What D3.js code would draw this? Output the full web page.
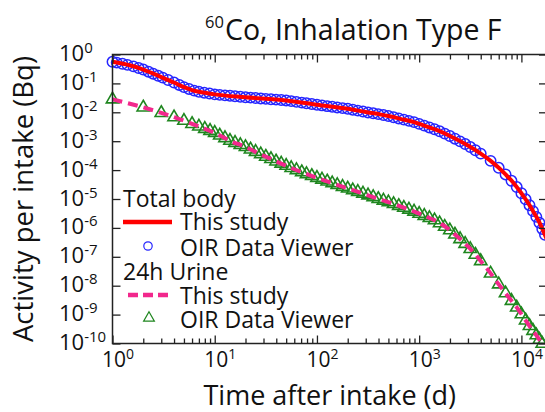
<!DOCTYPE html>
<html><head><meta charset="utf-8">
<script src="https://cdn.jsdelivr.net/npm/d3@7"></script>
<style>body{margin:0;background:#fff}svg{display:block;font-family:"Open Sans",sans-serif}</style>
</head><body><svg id="c" width="545" height="412"></svg>
<script>
// ---- data ----
const bodyLineT = [1,1.5,2,3,4,5,6,7,8.5,10,20,50,100,200,300,424,500,700,890,1000,1500,2000,3000,4000,5000,6000,7000,8500,10000,11700,13000,14700,16800,18000];
const bodyLineV = [0.562,0.417,0.302,0.166,0.107,0.0741,0.0589,0.0513,0.0457,0.0417,0.0331,0.0257,0.0182,0.0132,0.0102,0.00832,0.00741,0.00562,0.00457,0.00398,0.0024,0.00151,7.08e-4,3.72e-4,2.09e-4,1.2e-4,7.08e-5,3.39e-5,1.58e-5,7.08e-6,3.8e-6,1.78e-6,6.3e-7,3.55e-7];

const bodyOirT = [1,1.1,1.25,1.4,1.6,1.8,2,2.25,2.5,2.8,3.1,3.5,4,4.5,5,5.6,6.3,7,7.9,8.9,10,11.2,12.6,14.1,15.8,17.8,20,22.4,25.1,28.2,31.6,35.5,39.8,44.7,50,56,63,71,79,89,100,112,126,141,158,178,200,224,251,282,316,355,398,447,500,562,631,708,794,891,1000,1122,1259,1413,1585,1778,1995,2239,2512,2818,3162,3548,4000,5000,6000,7000,8000,9000,10000,11000,12000,13000,14000,15000,16000,17000];
const bodyOirV = [0.56,0.524,0.476,0.438,0.388,0.340,0.302,0.254,0.217,0.184,0.158,0.131,0.107,0.0883,0.0741,0.0643,0.0564,0.0513,0.0477,0.0446,0.0417,0.0402,0.0386,0.0372,0.0358,0.0344,0.0331,0.0321,0.0311,0.0301,0.0292,0.0283,0.0274,0.0265,0.0257,0.0243,0.0229,0.0216,0.0205,0.0193,0.0182,0.0173,0.0163,0.0155,0.0147,0.0139,0.0132,0.0123,0.0114,0.0106,0.0099,0.00925,0.00863,0.00802,0.00741,0.00673,0.00612,0.00557,0.00504,0.00457,0.00398,0.00345,0.00299,0.00258,0.0022,0.00183,0.00151,0.00122,0.000987,0.000796,0.000628,0.000486,3.72e-4,2.09e-4,1.2e-4,7.08e-5,4.26e-5,2.59e-5,1.58e-5,9.75e-6,6.1e-6,3.8e-6,2.4e-6,1.51e-6,9.2e-7,5.75e-7];

const urineLineT = [1,2,3,4,5,6,7,8,9,10,14.4,20,28,40,60,87,128,183,270,395,570,830,1230,1500,2000,2400,3000,3470,4050,4750,5900,7000,8000,9300,11000,12500,14700,17000];
const urineLineV = [0.0282,0.0148,0.00955,0.00676,0.00513,0.00398,0.00324,0.00269,0.00229,0.00195,1.0e-3,6.31e-4,3.55e-4,2.0e-4,1.07e-4,6.46e-5,3.98e-5,2.57e-5,1.62e-5,1.02e-5,6.61e-6,4.07e-6,2.29e-6,1.66e-6,8.32e-7,4.79e-7,2.29e-7,1.32e-7,6.76e-8,3.39e-8,1.2e-8,5.5e-9,3.0e-9,1.51e-9,6.3e-10,3.31e-10,1.51e-10,7.08e-11];

const urineOirT = [1,2,3,4,5,6,7,8,9,10,11.2,12.6,14.1,15.8,17.8,20,22.4,25.1,28.2,31.6,35.5,39.8,44.7,50,56,63,71,79,89,100,112,126,141,158,178,200,224,251,282,316,355,398,447,500,562,631,708,794,891,1000,1122,1259,1413,1585,1778,1995,2239,2512,2818,3162,3548,4000,5000,6000,7000,8000,9000,10000,11000,12000,13000,14000,15000,16000];
const urineOirV = [0.0282,0.0148,0.00955,0.00676,0.00513,0.00398,0.00324,0.00269,0.00229,0.00195,0.00158,0.00128,0.00104,8.77e-4,7.43e-4,6.31e-4,5.21e-4,4.28e-4,3.55e-4,2.92e-4,2.43e-4,2.0e-4,1.69e-4,1.42e-4,1.19e-4,1.0e-4,8.5e-5,7.3e-5,6.3e-5,5.42e-5,4.71e-5,4.07e-5,3.53e-5,3.07e-5,2.65e-5,2.31e-5,2.02e-5,1.77e-5,1.54e-5,1.34e-5,1.17e-5,1.01e-5,8.85e-6,7.74e-6,6.73e-6,5.79e-6,5.0e-6,4.31e-6,3.67e-6,3.1e-6,2.62e-6,2.21e-6,1.84e-6,1.45e-6,1.1e-6,8.3e-7,5.93e-7,4.11e-7,2.81e-7,1.87e-7,1.19e-7,7.14e-8,2.65e-8,1.12e-8,5.5e-9,3.0e-9,1.76e-9,1.03e-9,6.3e-10,4.07e-10,2.74e-10,1.93e-10,1.36e-10,9.8e-11];

const xTickExps = [0,1,2,3,4];
const yTickExps = [0,-1,-2,-3,-4,-5,-6,-7,-8,-9,-10];
const titleSup = "60";
const titleMain = "Co, Inhalation Type F";
const xTitle = "Time after intake (d)";
const yTitle = "Activity per intake (Bq)";
const legendItems = ["Total body","This study","OIR Data Viewer","24h Urine","This study","OIR Data Viewer"];

// ---- layout ----
const M = {l:112.5, t:54.5, r:547, b:343.5};
const TXT = "#111";
const svg = d3.select("#c");
const x = d3.scaleLog().domain([1, 17800]).range([M.l, M.r]);
const y = d3.scaleLog().domain([1, 1e-10]).range([M.t, M.b]);

svg.append("defs").append("clipPath").attr("id","clip")
  .append("rect").attr("x",M.l).attr("y",M.t).attr("width",M.r-M.l).attr("height",M.b-M.t);

// markers
const plot = svg.append("g");
plot.append("g").selectAll("circle").data(d3.zip(bodyOirT, bodyOirV)).join("circle")
  .attr("cx",d=>x(d[0])).attr("cy",d=>y(d[1])).attr("r",5.2)
  .attr("fill","none").attr("stroke","#2626ff").attr("stroke-width",1.5);
const tri = d3.symbol(d3.symbolTriangle, 66);
plot.append("g").selectAll("path").data(d3.zip(urineOirT, urineOirV)).join("path")
  .attr("d",tri).attr("transform",d=>`translate(${x(d[0])},${y(d[1])})`)
  .attr("fill","none").attr("stroke","#1f861f").attr("stroke-width",1.6);

// lines
const line = d3.line().x(d=>x(d[0])).y(d=>y(d[1])).curve(d3.curveMonotoneX);
const lines = svg.append("g").attr("clip-path","url(#clip)");
lines.append("path").attr("d", line(d3.zip(bodyLineT, bodyLineV)))
  .attr("fill","none").attr("stroke","#ff0000").attr("stroke-width",4);
lines.append("path").attr("d", line(d3.zip(urineLineT, urineLineV)))
  .attr("fill","none").attr("stroke","#f2288c").attr("stroke-width",4).attr("stroke-dasharray","10,6");

// axes
const minors = [];
for (let e=0;e<=4;e++) for (let k=2;k<=9;k++){ const v=k*Math.pow(10,e); if (v<17800) minors.push(v); }
const majorsX = xTickExps.map(e=>Math.pow(10,e));
const majorsY = yTickExps.map(e=>Math.pow(10,e));
function styleAxis(g){ g.select(".domain").remove(); g.selectAll("line").attr("stroke","#222").attr("stroke-width",1.3); g.selectAll("text").remove(); }
svg.append("g").attr("transform",`translate(0,${M.b})`).call(d3.axisBottom(x).tickValues(minors).tickSize(-5).tickFormat("")).call(styleAxis);
svg.append("g").attr("transform",`translate(0,${M.b})`).call(d3.axisBottom(x).tickValues(majorsX).tickSize(-8).tickFormat("")).call(styleAxis);
svg.append("g").attr("transform",`translate(0,${M.t})`).call(d3.axisTop(x).tickValues(minors).tickSize(-5).tickFormat("")).call(styleAxis);
svg.append("g").attr("transform",`translate(0,${M.t})`).call(d3.axisTop(x).tickValues(majorsX).tickSize(-8).tickFormat("")).call(styleAxis);
svg.append("g").attr("transform",`translate(${M.l},0)`).call(d3.axisLeft(y).tickValues(majorsY).tickSize(-8).tickFormat("")).call(styleAxis);
svg.append("g").attr("transform",`translate(${M.r},0)`).call(d3.axisRight(y).tickValues(majorsY).tickSize(-8).tickFormat("")).call(styleAxis);
svg.append("rect").attr("x",M.l).attr("y",M.t).attr("width",M.r-M.l).attr("height",M.b-M.t)
  .attr("fill","none").attr("stroke","#222").attr("stroke-width",1.5);

// tick labels
xTickExps.forEach(e=>{
  const t = svg.append("text").attr("x", x(Math.pow(10,e))-10.5).attr("y",367).attr("fill",TXT).attr("font-size",21);
  t.append("tspan").text("10");
  t.append("tspan").attr("font-size",14).attr("dy",-8).text(String(e));
});
yTickExps.forEach(e=>{
  const t = svg.append("text").attr("x",59).attr("y", y(Math.pow(10,e))+6.5).attr("fill",TXT).attr("font-size",22);
  t.append("tspan").text("10");
  t.append("tspan").attr("font-size",15).attr("dy",-8).text(e===0?"0":"-"+(-e));
});

// titles
svg.append("text").attr("x",205).attr("y",28).attr("font-size",16.5).attr("fill",TXT).text(titleSup);
svg.append("text").attr("x",225).attr("y",40).attr("font-size",28.5).attr("fill",TXT).text(titleMain);
svg.append("text").attr("x",(M.l+M.r)/2).attr("y",405).attr("text-anchor","middle").attr("font-size",27).attr("fill",TXT).text(xTitle);
svg.append("text").attr("transform",`translate(33,${(M.t+M.b)/2}) rotate(-90)`).attr("text-anchor","middle").attr("font-size",27.5).attr("fill",TXT).text(yTitle);

// legend
const lg = svg.append("g").attr("font-size",23).attr("fill",TXT);
const rowY = [207,230,256,280,304,328];
lg.append("text").attr("x",123).attr("y",rowY[0]).text(legendItems[0]);
lg.append("line").attr("x1",123).attr("x2",172).attr("y1",222).attr("y2",222).attr("stroke","#ff0000").attr("stroke-width",4.5);
lg.append("text").attr("x",180).attr("y",rowY[1]).text(legendItems[1]);
lg.append("circle").attr("cx",148).attr("cy",246).attr("r",4.2).attr("fill","none").attr("stroke","#2626ff").attr("stroke-width",1.2);
lg.append("text").attr("x",180).attr("y",rowY[2]).text(legendItems[2]);
lg.append("text").attr("x",123).attr("y",rowY[3]).text(legendItems[3]);
lg.append("line").attr("x1",128).attr("x2",172).attr("y1",295).attr("y2",295).attr("stroke","#f2288c").attr("stroke-width",4.5).attr("stroke-dasharray","10,5");
lg.append("text").attr("x",180).attr("y",rowY[4]).text(legendItems[4]);
lg.append("path").attr("d",d3.symbol(d3.symbolTriangle,50)()).attr("transform","translate(149,318)").attr("fill","none").attr("stroke","#1f861f").attr("stroke-width",1.2);
lg.append("text").attr("x",180).attr("y",rowY[5]).text(legendItems[5]);
</script></body></html>
